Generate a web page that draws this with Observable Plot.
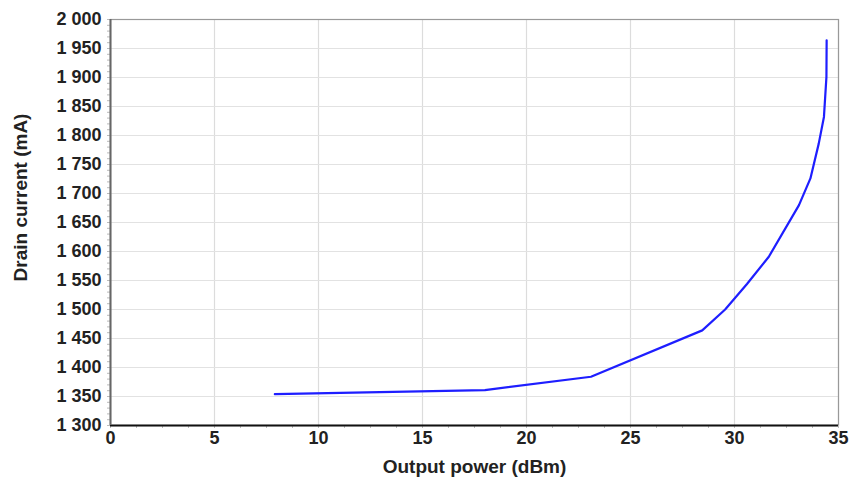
<!DOCTYPE html>
<html>
<head>
<meta charset="utf-8">
<script src="https://cdn.jsdelivr.net/npm/d3@7"></script>
<script src="https://cdn.jsdelivr.net/npm/@observablehq/plot@0.6"></script>
<style>
  html, body { margin: 0; padding: 0; background: #fff; }
  svg { font-family: "Liberation Sans", Arial, sans-serif; }
</style>
</head>
<body>
<div id="chart"></div>
<script>
// Data
const outputPower = [7.9, 18.0, 23.1, 28.45, 29.55, 30.6, 31.65, 33.1, 33.65, 34.05, 34.3, 34.42, 34.43];
const drainCurrent = [1354, 1361, 1384, 1464, 1500, 1544, 1591, 1680, 1726, 1786, 1832, 1901, 1964];

const xTicks = [0, 5, 10, 15, 20, 25, 30, 35];
const yTicks = [1300, 1350, 1400, 1450, 1500, 1550, 1600, 1650, 1700, 1750, 1800, 1850, 1900, 1950, 2000];
const xMinorTicks = d3.range(0, 35.001, 1.25);
const yMinorTicks = d3.range(1300, 2000.001, 10);

const xTitle = "Output power (dBm)";
const yTitle = "Drain current (mA)";

const data = outputPower.map((x, i) => ({x, y: drainCurrent[i]}));
const fmt = d => d3.format(",")(d).replace(",", " ");

const chart = Plot.plot({
  width: 851,
  height: 478,
  marginLeft: 110,
  marginRight: 13,
  marginTop: 19,
  marginBottom: 53,
  style: {fontFamily: "Liberation Sans, Arial, sans-serif", background: "#fff"},
  x: {domain: [0, 35]},
  y: {domain: [1300, 2000]},
  marks: [
    Plot.gridX(xTicks, {stroke: "#dcdcdc", strokeOpacity: 1, strokeWidth: 1.2}),
    Plot.gridY(yTicks, {stroke: "#e2e2e2", strokeOpacity: 1, strokeWidth: 1.2}),
    Plot.frame({stroke: "#999", strokeWidth: 1.2}),
    Plot.axisX(xMinorTicks, {tickSize: 3, text: null, stroke: "#bbb", label: null}),
    Plot.axisY(yMinorTicks, {tickSize: 3, text: null, stroke: "#bbb", label: null}),
    Plot.axisX(xTicks, {tickSize: 0, tickPadding: 6, fontSize: 18, fontWeight: "bold", fill: "#222", label: null}),
    Plot.axisY(yTicks, {tickSize: 0, tickPadding: 9, fontSize: 18, fontWeight: "bold", fill: "#222", tickFormat: fmt, label: null}),
    Plot.ruleY([1300], {stroke: "#111", strokeWidth: 2}),
    Plot.ruleX([0], {stroke: "#666", strokeWidth: 2}),
    Plot.line(data, {x: "x", y: "y", stroke: "#1e1eff", strokeWidth: 2.2}),
    Plot.text([xTitle], {frameAnchor: "bottom", dy: 41, textAnchor: "middle", lineAnchor: "middle", fontSize: 19, fontWeight: "bold", fill: "#222"}),
    Plot.text([yTitle], {frameAnchor: "left", dx: -90, dy: -25, rotate: -90, textAnchor: "middle", lineAnchor: "middle", fontSize: 19, fontWeight: "bold", fill: "#222"})
  ]
});
document.getElementById("chart").appendChild(chart);
</script>
</body>
</html>
